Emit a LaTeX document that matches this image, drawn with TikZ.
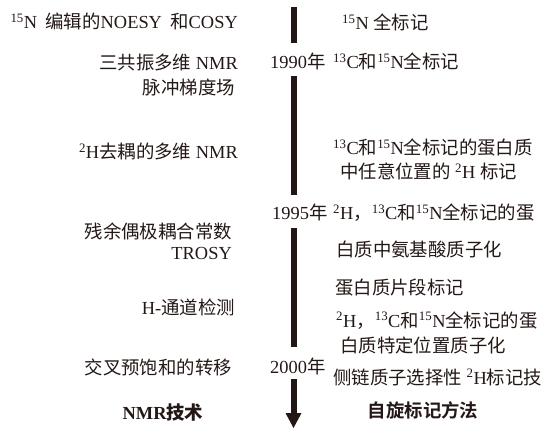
\documentclass[tikz,border=0pt]{standalone}
\usepackage{fontspec}
\setmainfont{Liberation Serif}
\newfontfamily\cjk{Noto Sans CJK SC}
\newfontfamily\cjkb{Noto Sans CJK SC Bold}
\newcommand\zh[1]{{\cjk #1}}
\newcommand\zhb[1]{{\cjkb #1}}
\newcommand\sups[1]{\textsuperscript{#1}}
\definecolor{ink}{HTML}{231815}
\begin{document}
\begin{tikzpicture}[x=1pt,y=-1pt,
  txt/.style={inner sep=0pt,font=\fontsize{18.4}{21}\selectfont,text=ink},
  lft/.style={txt,anchor=base east},
  rgt/.style={txt,anchor=base west},
  bar/.style={line width=6pt,draw=ink}]
\useasboundingbox (0,0) rectangle (551,430);
% left column
\node[lft] (l1) at (238,29) {\sups{15}N\hspace{0.45em}\zh{编辑的}NOESY\hspace{0.45em}\zh{和}COSY};
\node[lft] (l2) at (238,70) {\zh{三共振多维} NMR};
\node[lft] (l3) at (235,95) {\zh{脉冲梯度场}};
\node[lft] (l4) at (238,159) {\sups{2}H\zh{去耦的多维} NMR};
\node[lft] (l5) at (232,239) {\zh{残余偶极耦合常数}};
\node[lft] (l6) at (232,259) {TROSY};
\node[lft] (l7) at (235,314) {H-\zh{通道检测}};
\node[lft] (l8) at (232,374) {\zh{交叉预饱和的转移}};
\node[txt,anchor=base] (t1) at (163,419) {\bfseries NMR\zhb{技术}};
% years
\node[rgt] (y90) at (270,69) {1990\zh{年}};
\node[rgt] (y95) at (272,220) {1995\zh{年}};
\node[rgt] (y00) at (270,373) {2000\zh{年}};
% right column
\node[rgt] (r1) at (342,30) {\sups{15}N \zh{全标记}};
\node[rgt] (r2) at (333,69) {\sups{13}C\zh{和}\sups{15}N\zh{全标记}};
\node[rgt] (r3) at (333,155) {\sups{13}C\zh{和}\sups{15}N\zh{全标记的蛋白质}};
\node[rgt] (r4) at (340,179) {\zh{中任意位置的} \sups{2}H \zh{标记}};
\node[rgt] (r5) at (333,220) {\sups{2}H\zh{，}\sups{13}C\zh{和}\sups{15}N\zh{全标记的蛋}};
\node[rgt] (r6) at (336,257) {\zh{白质中氨基酸质子化}};
\node[rgt] (r7) at (335,294) {\zh{蛋白质片段标记}};
\node[rgt] (r8) at (336,327) {\sups{2}H\zh{，}\sups{13}C\zh{和}\sups{15}N\zh{全标记的蛋}};
\node[rgt] (r9) at (340,352) {\zh{白质特定位置质子化}};
\node[rgt] (r10) at (333,384) {\zh{侧链质子选择性} \sups{2}H\zh{标记技}};
\node[txt,anchor=base] (t2) at (423,417) {\zhb{自旋标记方法}};
% timeline
\coordinate (a0) at (293.5,7);
\coordinate (a1) at (293.5,43);
\coordinate (b0) at (293.5,76);
\coordinate (b1) at (293.5,195);
\coordinate (c0) at (293.5,228);
\coordinate (c1) at (293.5,347);
\coordinate (d0) at (293.5,379);
\coordinate (d1) at (293.5,413);
\coordinate (tip) at (293.5,428);
\draw[bar] (a0) -- (a1);
\draw[bar] (b0) -- (b1);
\draw[bar] (c0) -- (c1);
\draw[bar] (d0) -- (d1);
\fill[ink] ([xshift=-8pt]d1) -- ([xshift=8pt]d1) -- (tip) -- cycle;
\end{tikzpicture}
\end{document}
